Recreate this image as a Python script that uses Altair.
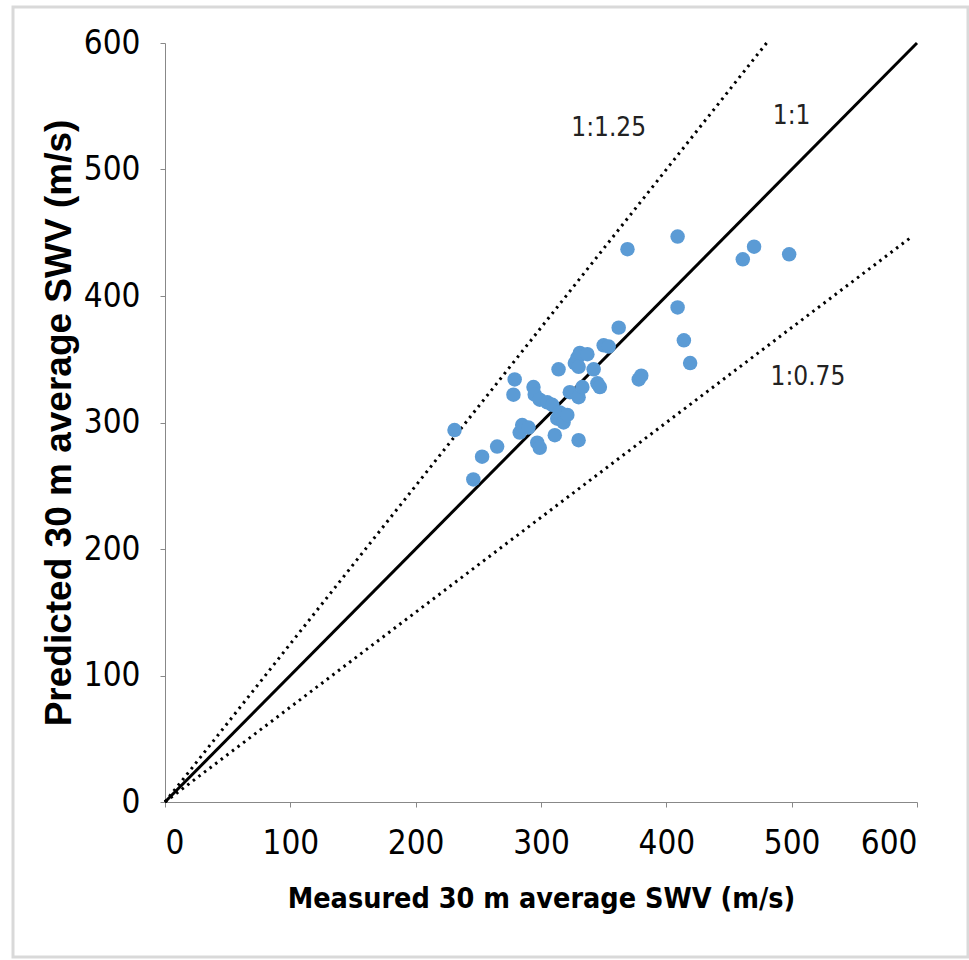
import altair as alt
import pandas as pd

# Scatter points (measured, predicted)
measured = [231, 246, 253, 265, 279, 278, 283, 285, 290, 294, 295, 297, 299, 299,
            305, 309, 311, 314, 313, 315, 318, 321, 323, 327, 329, 330, 330, 330,
            331, 333, 337, 342, 345, 347, 350, 354, 362, 369, 378, 380, 409, 409,
            414, 419, 461, 470, 498]
predicted = [294, 255, 273, 281, 334, 322, 292, 298, 296, 328, 322, 284, 280, 318,
             316, 314, 290, 342, 303, 308, 300, 306, 324, 347, 351, 344, 320, 286,
             355, 328, 354, 342, 331, 328, 361, 360, 375, 437, 334, 337, 447, 391,
             365, 347, 429, 439, 433]

# Reference lines (endpoints)
line_names = ["1:1", "1:1", "1:1.25", "1:1.25", "1:0.75", "1:0.75"]
line_x = [0, 600, 0, 480, 0, 595]
line_y = [0, 600, 0, 600, 0, 446.25]

# Annotation labels
ann_text = ["1:1.25", "1:1", "1:0.75"]
ann_x = [354, 500, 513]
ann_y = [533, 542, 336]

ticks = [0, 100, 200, 300, 400, 500, 600]

pts = pd.DataFrame({"m": measured, "p": predicted})
lines = pd.DataFrame({"name": line_names, "m": line_x, "p": line_y})
ann = pd.DataFrame({"t": ann_text, "m": ann_x, "p": ann_y})

NARROW = "DejaVu Sans Condensed, Liberation Sans, sans-serif"
BOLD = "Liberation Sans, sans-serif"

xs = alt.Scale(domain=[0, 600], nice=False, zero=True)
ys = alt.Scale(domain=[0, 600], nice=False, zero=True)

xaxis = alt.Axis(values=ticks, grid=False, title="Measured 30 m average SWV (m/s)",
                 labelFont=NARROW, labelFontSize=33, labelPadding=20,
                 titleFont=NARROW, titleFontSize=28.5, titleFontWeight="bold", titlePadding=24)
yaxis = alt.Axis(values=ticks, grid=False, title="Predicted 30 m average SWV (m/s)",
                 labelFont=NARROW, labelFontSize=33, labelPadding=20,
                 titleFont=BOLD, titleFontSize=37, titleFontWeight="bold", titlePadding=5)

X = alt.X("m:Q", scale=xs, axis=xaxis)
Y = alt.Y("p:Q", scale=ys, axis=yaxis)

frame = alt.Chart(pd.DataFrame({"a": [0]})).mark_rect(
    fill=None, stroke="#d9d9d9", strokeWidth=3
).encode(x=alt.value(-152), x2=alt.value(803), y=alt.value(-36), y2=alt.value(914))

solid = alt.Chart(lines[lines["name"] == "1:1"]).mark_line(color="black", strokeWidth=3).encode(
    x=X, y=Y,
)

dotted = alt.Chart(lines[lines["name"] != "1:1"]).mark_line(
    color="black", strokeWidth=3, strokeDash=[2.5, 4.5]
).encode(x=X, y=Y, detail="name:N")

points = alt.Chart(pts).mark_circle(size=210, color="#5B9BD5", opacity=1).encode(x=X, y=Y)

labels = alt.Chart(ann).mark_text(font=NARROW, fontSize=26, color="#222222").encode(
    x=X, y=Y, text="t:N",
)

chart = alt.layer(frame, dotted, solid, points, labels).properties(
    width=752, height=759,
    autosize=alt.AutoSizeParams(type="none"),
    padding={"left": 165, "top": 43, "right": 52, "bottom": 158},
    view=alt.ViewBackground(stroke=None, strokeWidth=0),
).configure_view(strokeWidth=0, strokeOpacity=0, stroke="transparent").configure_axis(
    grid=False, domainColor="black", domainWidth=2, tickColor="black", tickWidth=2,
    tickSize=10, labelColor="black", titleColor="black",
).configure(background="white")

chart.save("out.html", embed_options={"renderer": "svg", "actions": False})
